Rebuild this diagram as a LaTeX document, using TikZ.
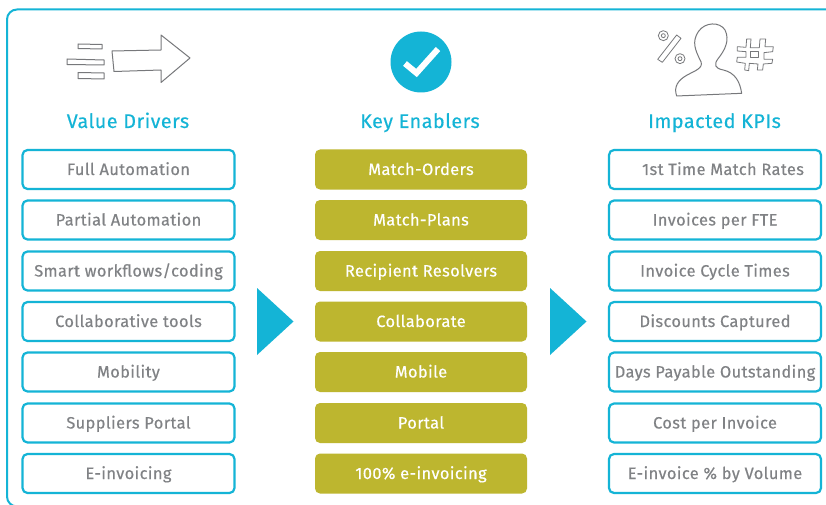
\documentclass[tikz,border=0pt]{standalone}
\usepackage{fontspec}
\setmainfont[LetterSpace=2.4,FakeBold=0.35]{Fira Sans}
\definecolor{cy}{HTML}{14B4D6}
\definecolor{ol}{HTML}{BDB62F}
\definecolor{gy}{HTML}{808285}
\definecolor{ic}{HTML}{77787B}
\tikzset{
 valbox/.style={draw=cy,line width=2.2pt,rounded corners=5pt,minimum width=212pt,minimum height=39pt,inner sep=0pt,text=gy,font=\fontsize{16.4}{18}\selectfont,fill=white,text height=14.5pt,text depth=3.5pt},
 enabox/.style={fill=ol,rounded corners=5pt,minimum width=212pt,minimum height=40pt,inner sep=0pt,text=white,font=\fontsize{16.4}{18}\selectfont,text height=14.5pt,text depth=3.5pt},
 titlelab/.style={text=cy,font=\fontsize{19.8}{22}\selectfont,inner sep=0pt,text height=18pt,text depth=4pt},
 chev/.style={fill=cy},
 iconline/.style={draw=ic,line width=1pt,line join=round}
}
\begin{document}
\begin{tikzpicture}[x=1pt,y=-1pt]
\useasboundingbox (0,0) rectangle (826,505);
\fill[white] (0,0) rectangle (826,505);
\path[clip] (0,0) rectangle (826,505);
\draw[cy,line width=2pt,rounded corners=10pt] (840,9.5) -- (7,9.5) -- (7,506.5) -- (840,506.5);
\node[titlelab] (t1) at (128,121) {Value Drivers};
\node[titlelab] (t2) at (420,121) {Key Enablers};
\node[titlelab] (t3) at (714.5,121) {Impacted KPIs};
\foreach \n/\y/\a/\b/\c in {
 1/169.5/Full Automation/Match-Orders/\hspace{16pt}1st Time Match Rates,
 2/220/Partial Automation/Match-Plans/Invoices per FTE,
 3/271/Smart workflows\slash coding/Recipient Resolvers/Invoice Cycle Times,
 4/321.5/Collaborative tools/Collaborate/Discounts Captured,
 5/372/Mobility/Mobile/Days Payable Outstanding,
 6/423/Suppliers Portal/Portal/Cost per Invoice,
 7/473.5/E-invoicing/100\% e-invoicing/E-invoice \% by Volume}{
  \node[valbox] (a\n) at (128.5,\y) {\a};
  \node[enabox] (b\n) at (421,\y) {\b};
  \node[valbox] (c\n) at (715,\y) {\c};
}
\fill[chev] (257,288) -- (293.5,321.5) -- (257,355) -- cycle;
\fill[chev] (550,288) -- (586.5,321.5) -- (550,355) -- cycle;
% left icon
\draw[iconline] (112,51) -- (161,50) -- (161,35) -- (190,58) -- (161,82.5) -- (161,70) -- (114,71.5) -- cycle;
\draw[iconline] (78,44) -- (102,44.5) -- (102,49) -- (78,48.5) -- cycle;
\draw[iconline] (67,59) -- (104,60) -- (104,65) -- (67,64.5) -- cycle;
\draw[iconline] (78,72.5) -- (104,73) -- (104,79) -- (78,78.5) -- cycle;
% middle icon
\fill[cy] (421,62) circle[radius=30.5];
\draw[white,line width=6pt] (405,63.5) -- (416.5,73) -- (438,49);
% right icon
\begin{scope}[x=0.3333pt,y=-0.3333pt,shift={(620pt,0pt)}]
\draw[iconline] (170,288) .. controls (160,260) and (175,240) .. (200,226) .. controls (225,212) and (250,205) .. (243,185) .. controls (225,150) and (215,125) .. (235,95) .. controls (255,65) and (300,65) .. (315,90) .. controls (330,120) and (315,150) .. (295,175) .. controls (280,195) and (285,205) .. (310,210) .. controls (345,218) and (360,245) .. (365,280) -- cycle;
\draw[iconline,line width=.8pt] (113,178) -- (170,105) -- (183,115) -- (127,187) -- cycle;
\draw[iconline,line width=.8pt] (130,107) circle[radius=15] (130,107) circle[radius=6];
\draw[iconline,line width=.8pt] (180,176) circle[radius=15] (180,176) circle[radius=6];
\draw[iconline,line width=.8pt] (380,117) -- (393,117) -- (391,143) -- (418,143) -- (420,117) -- (437,117) -- (435,140) -- (460,140) -- (458,155) -- (432,158) -- (432,178) -- (458,178) -- (456,190) -- (430,192) -- (428,210) -- (412,210) -- (414,192) -- (388,190) -- (386,212) -- (374,210) -- (376,190) -- (350,186) -- (352,172) -- (378,172) -- (378,155) -- (352,153) -- (352,140) -- (378,142) -- cycle;
\draw[iconline,line width=.8pt] (392,155) -- (416,155) -- (416,172) -- (392,172) -- cycle;
\end{scope}
\end{tikzpicture}
\end{document}
